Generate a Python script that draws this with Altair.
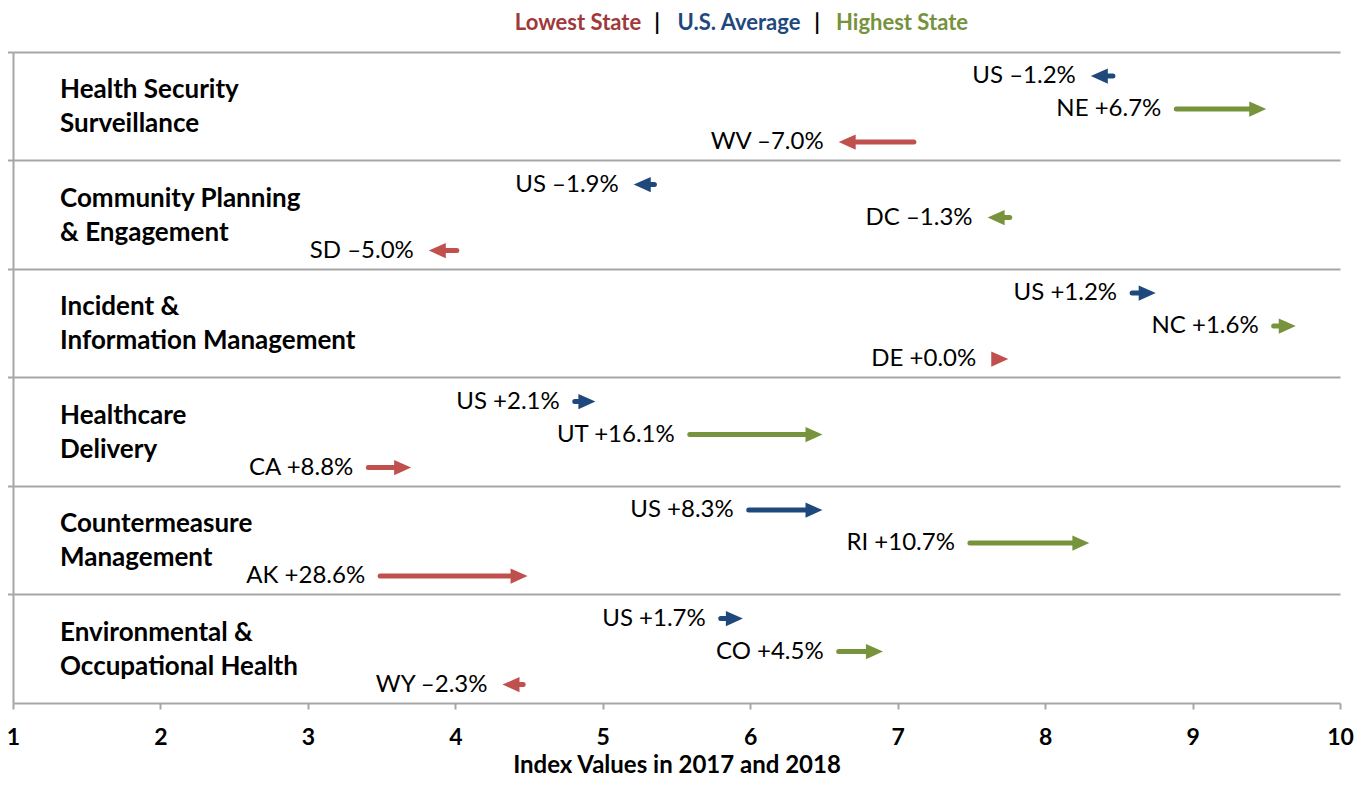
import altair as alt
import pandas as pd

# ---- data ----
domains = [
    "Health Security\nSurveillance",
    "Community Planning\n& Engagement",
    "Incident &\nInformation Management",
    "Healthcare\nDelivery",
    "Countermeasure\nManagement",
    "Environmental &\nOccupational Health",
]
series = ["U.S. Average", "Highest State", "Lowest State"]
series_colors = ["#1F497D", "#77933C", "#C0504D"]

us_codes = ["US", "US", "US", "US", "US", "US"]
us_2017 = [8.46, 5.35, 8.59, 4.81, 5.99, 5.80]
us_2018 = [8.31, 5.21, 8.75, 4.95, 6.49, 5.95]
us_change = ["–1.2%", "–1.9%", "+1.2%", "+2.1%", "+8.3%", "+1.7%"]

high_codes = ["NE", "DC", "NC", "UT", "RI", "CO"]
high_2017 = [8.89, 7.76, 9.55, 5.59, 7.49, 6.60]
high_2018 = [9.50, 7.61, 9.70, 6.49, 8.30, 6.90]
high_change = ["+6.7%", "–1.3%", "+1.6%", "+16.1%", "+10.7%", "+4.5%"]

low_codes = ["WV", "SD", "DE", "CA", "AK", "WY"]
low_2017 = [7.11, 4.01, 7.75, 3.41, 3.49, 4.46]
low_2018 = [6.60, 3.82, 7.75, 3.70, 4.49, 4.32]
low_change = ["–7.0%", "–5.0%", "+0.0%", "+8.8%", "+28.6%", "–2.3%"]

legend_labels = ["Lowest State", "|", "U.S. Average", "|", "Highest State"]
legend_colors = ["#A0393A", "#000000", "#1F497D", "#000000", "#76923C"]

x_ticks = [1, 2, 3, 4, 5, 6, 7, 8, 9, 10]

# ---- table ----
rows = []
for codes, s17, s18, chg, name in [
    (us_codes, us_2017, us_2018, us_change, series[0]),
    (high_codes, high_2017, high_2018, high_change, series[1]),
    (low_codes, low_2017, low_2018, low_change, series[2]),
]:
    for d, c, a, b, p in zip(domains, codes, s17, s18, chg):
        rows.append({"domain": d, "series": name, "code": c,
                     "y2017": a, "y2018": b, "change": p})
df = pd.DataFrame(rows)
dom_df = pd.DataFrame({"domain": domains})

FONT = "Lato"
GRID = "#A6A6A6"

x_scale = alt.Scale(domain=[1, 10], nice=False, zero=False)
x_axis = alt.Axis(
    title="Index Values in 2017 and 2018", values=x_ticks, format="d",
    grid=False, domainColor=GRID, domainWidth=2, tickColor=GRID, tickWidth=2,
    tickSize=6, labelFont=FONT, labelFontSize=23, labelFontWeight="bold",
    labelColor="#000000", labelBaseline="alphabetic", labelPadding=35,
    labelFlush=False,
    titleFont=FONT, titleFontSize=24, titleFontWeight="bold",
    titleColor="#000000", titleBaseline="alphabetic", titleY=69.7,
)
y_axis = alt.Axis(
    title=None, labels=False, bandPosition=0, grid=True, gridColor=GRID,
    gridWidth=2, domainColor=GRID, domainWidth=2, tickColor=GRID,
    tickWidth=2, tickSize=6,
)
y_enc = alt.Y("domain:N", sort=domains,
              scale=alt.Scale(type="band", paddingInner=0, paddingOuter=0),
              axis=y_axis)
yoff_enc = alt.YOffset("series:N", sort=series,
                       scale=alt.Scale(type="band", paddingInner=0,
                                       paddingOuter=0.144, align=0.8))
color_enc = alt.Color("series:N", sort=series,
                      scale=alt.Scale(domain=series, range=series_colors),
                      legend=None)

HEAD = 17 / 147.44  # arrow head length in data units

base = alt.Chart(df).transform_calculate(
    dir="datum.y2018 >= datum.y2017 ? 1 : -1"
).transform_calculate(
    ang="datum.dir > 0 ? 0 : 180",
    ruleEnd=f"datum.y2018 - datum.dir * {HEAD * 0.5}",
    labelX=f"datum.dir > 0 ? min(datum.y2017, datum.y2018 - {HEAD}) : datum.y2018",
    label="datum.code + ' ' + datum.change",
)

shafts = base.transform_filter(
    f"abs(datum.y2018 - datum.y2017) > {HEAD * 0.5}"
).mark_rule(strokeWidth=5, strokeCap="round").encode(
    x=alt.X("y2017:Q", scale=x_scale, axis=x_axis),
    x2="ruleEnd:Q",
    y=y_enc, yOffset=yoff_enc, color=color_enc,
)

heads = base.mark_point(
    shape="M0,0L-2,-0.9L-2,0.9Z", size=289, filled=True, opacity=1,
    strokeWidth=0,
).encode(
    x=alt.X("y2018:Q", scale=x_scale, axis=x_axis),
    y=y_enc, yOffset=yoff_enc, color=color_enc,
    angle=alt.Angle("ang:Q", scale=None),
)

labels = base.mark_text(
    align="right", baseline="middle", dx=-15, font=FONT, fontSize=24,
    color="#000000",
).encode(
    x=alt.X("labelX:Q", scale=x_scale, axis=x_axis),
    y=y_enc, yOffset=yoff_enc, text="label:N",
)

cat_labels = alt.Chart(dom_df).mark_text(
    align="left", baseline="middle", lineBreak="\n", font=FONT,
    fontSize=26, fontWeight="bold", lineHeight=34, color="#000000", dy=-16,
).encode(
    x=alt.value(47), y=y_enc, text="domain:N",
)

legend_layers = []
legend_x = [565, 644, 726, 804, 889]
for lab, col, lx in zip(legend_labels, legend_colors, legend_x):
    legend_layers.append(
        alt.Chart(pd.DataFrame({"t": [lab]})).mark_text(
            align="center", baseline="alphabetic", font=FONT, fontSize=22,
            fontWeight="bold", color=col,
        ).encode(x=alt.value(lx), y=alt.value(-22), text="t:N")
    )

chart = alt.layer(shafts, heads, labels, cat_labels, *legend_layers).properties(
    width=1327, height=651,
    padding={"left": 5, "top": 44, "right": 20, "bottom": 75},
    autosize=alt.AutoSizeParams(type="none"),
).configure_view(stroke=None)

chart.save("out.html", embed_options={"renderer": "svg", "actions": False})
